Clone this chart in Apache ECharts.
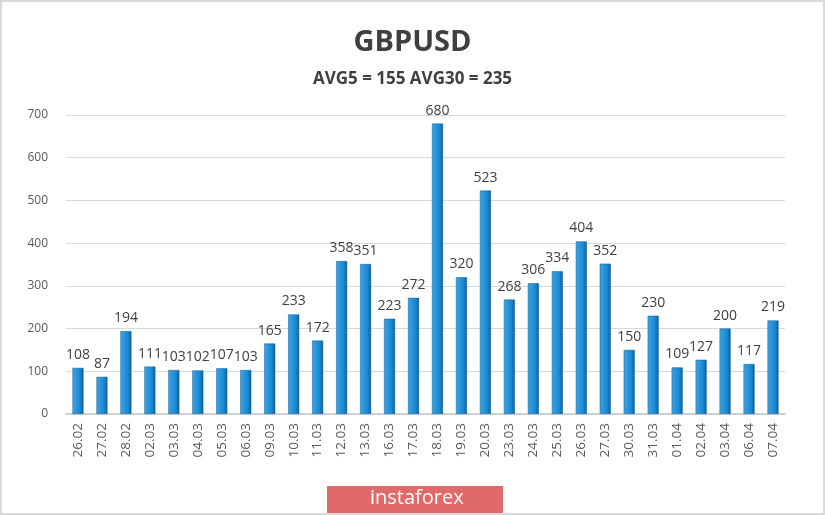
<!DOCTYPE html>
<html><head><meta charset="utf-8">
<script src="https://cdn.jsdelivr.net/npm/echarts@6/dist/echarts.min.js"></script>
<style>html,body{margin:0;padding:0;background:#fff}#c{width:825px;height:515px;box-sizing:border-box;border:2px solid #d9d9d9}</style>
</head><body><div id="c"></div>
<script>
const categories=["26.02","27.02","28.02","02.03","03.03","04.03","05.03","06.03","09.03","10.03","11.03","12.03","13.03","16.03","17.03","18.03","19.03","20.03","23.03","24.03","25.03","26.03","27.03","30.03","31.03","01.04","02.04","03.04","06.04","07.04"];
const values=[108,87,194,111,103,102,107,103,165,233,172,358,351,223,272,680,320,523,268,306,334,404,352,150,230,109,127,200,117,219];
const yTicks=[0,100,200,300,400,500,600,700];
const chart=echarts.init(document.getElementById('c'),null,{renderer:'canvas'});
chart.setOption({
  animation:false,
  backgroundColor:'#fff',
  title:[{text:'GBPUSD',left:'center',top:21,textStyle:{fontFamily:'Open Sans',fontSize:29,fontWeight:'bold',color:'#404040'}},
         {text:'AVG5 = 155 AVG30 = 235',left:'center',top:64,textStyle:{fontFamily:'Open Sans',fontSize:17,fontWeight:'bold',color:'#404040'}}],
  grid:{left:64,right:38,top:113,bottom:99},
  xAxis:{type:'category',data:categories,axisTick:{show:false},
    axisLine:{lineStyle:{color:'#d0d0d0',width:2}},
    axisLabel:{rotate:90,fontFamily:'Open Sans',fontSize:13.5,color:'#595959',margin:9}},
  yAxis:{type:'value',min:yTicks[0],max:yTicks[yTicks.length-1],interval:100,
    axisLabel:{fontFamily:'Open Sans',fontSize:12,color:'#595959',margin:18},
    splitLine:{lineStyle:{color:'#d9d9d9'}},axisLine:{show:false},axisTick:{show:false}},
  series:[{type:'bar',data:values,barWidth:11,
    itemStyle:{color:new echarts.graphic.LinearGradient(0,0,1,0,[{offset:0,color:'#3fa5e3'},{offset:0.7,color:'#1a86d0'},{offset:1,color:'#0a5d99'}]),borderColor:'#0a5d99',borderWidth:0.5},
    label:{show:true,position:'top',distance:6,fontFamily:'Open Sans',fontSize:14,color:'#404040'}}],
  graphic:[{type:'rect',left:325,top:484,shape:{width:176,height:29},style:{fill:'#e06a6a'}},
    {type:'text',left:368,top:486,style:{text:'instaforex',fill:'#fff',font:'20px "Open Sans"'}}]
});
</script></body></html>
